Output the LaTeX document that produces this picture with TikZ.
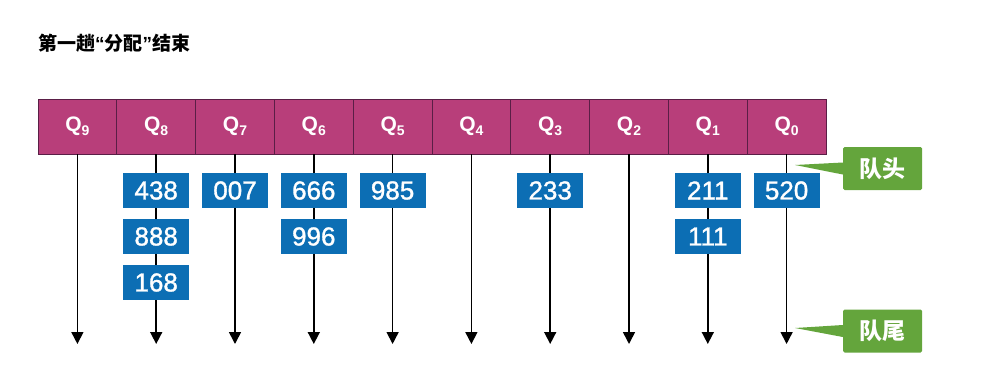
\documentclass[tikz,border=0pt]{standalone}
\usepackage{fontspec}
\setmainfont{Liberation Sans}
\newfontfamily\numfont{Liberation Sans}[FakeBold=1.2]
\newfontfamily\cjk{Noto Sans CJK SC}
\usetikzlibrary{arrows.meta}
\definecolor{qpink}{RGB}{184,62,122}
\definecolor{qline}{RGB}{90,30,70}
\definecolor{bbox}{RGB}{12,110,180}
\definecolor{gbox}{RGB}{100,165,60}
\tikzset{
  cell/.style={draw=qline, line width=0.8pt, fill=qpink, minimum width=78.8pt, minimum height=55pt, inner sep=0pt, text=white, font=\fontsize{21}{21}\selectfont\bfseries},
  numbox/.style={fill=bbox, minimum width=66pt, minimum height=35pt, inner sep=0pt, text=white, font=\fontsize{26}{26}\selectfont\numfont},
  tag/.style={fill=gbox, rounded corners=1.5pt, minimum width=79pt, minimum height=43pt, inner sep=0pt, text=white, font=\fontsize{23}{23}\selectfont\cjk\bfseries},
  chain/.style={line width=1.6pt, -{Triangle[length=12pt,width=12pt]}},
}
\newcommand{\qlab}[1]{Q\raisebox{-0.3ex}{\fontsize{14}{14}\selectfont #1}}
\begin{document}
\begin{tikzpicture}[x=1pt,y=-1pt]
\useasboundingbox (0,0) rectangle (998,386);
\node[anchor=west, inner sep=0pt, font=\fontsize{19}{19}\selectfont\cjk\bfseries] (title) at (38,43) {第一趟{\rmfamily\bfseries “}分配{\rmfamily\bfseries ”}结束};
% queue cells
\foreach \i/\n in {0/9,1/8,2/7,3/6,4/5,5/4,6/3,7/2,8/1,9/0}{
  \node[cell] (q\n) at ({38+78.8*(\i+0.5)},126.5) {\qlab{\n}};
  \coordinate (t\n) at ({38+78.8*(\i+0.5)},344);
  \draw[chain] (q\n.south) -- (t\n);
}
% number boxes
\node[numbox] (b438) at (q8 |- 0,190.5) {438};
\node[numbox] (b888) at (q8 |- 0,236.5) {888};
\node[numbox] (b168) at (q8 |- 0,282.5) {168};
\node[numbox] (b007) at (q7 |- 0,190.5) {007};
\node[numbox] (b666) at (q6 |- 0,190.5) {666};
\node[numbox] (b996) at (q6 |- 0,236.5) {996};
\node[numbox] (b985) at (q5 |- 0,190.5) {985};
\node[numbox] (b233) at (q3 |- 0,190.5) {233};
\node[numbox] (b211) at (q1 |- 0,190.5) {211};
\node[numbox] (b111) at (q1 |- 0,236.5) {111};
\node[numbox] (b520) at (q0 |- 0,190.5) {520};
% callouts
\node[tag] (head) at (882.5,168.5) {队头};
\coordinate (hp) at (795,165);
\fill[gbox] (hp) -- ([yshift=-6pt]head.west) -- ([yshift=6pt]head.west) -- cycle;
\node[tag] (tail) at (882.5,331) {队尾};
\coordinate (tp) at (795,328);
\fill[gbox] (tp) -- ([yshift=-6pt]tail.west) -- ([yshift=6pt]tail.west) -- cycle;
\end{tikzpicture}
\end{document}
